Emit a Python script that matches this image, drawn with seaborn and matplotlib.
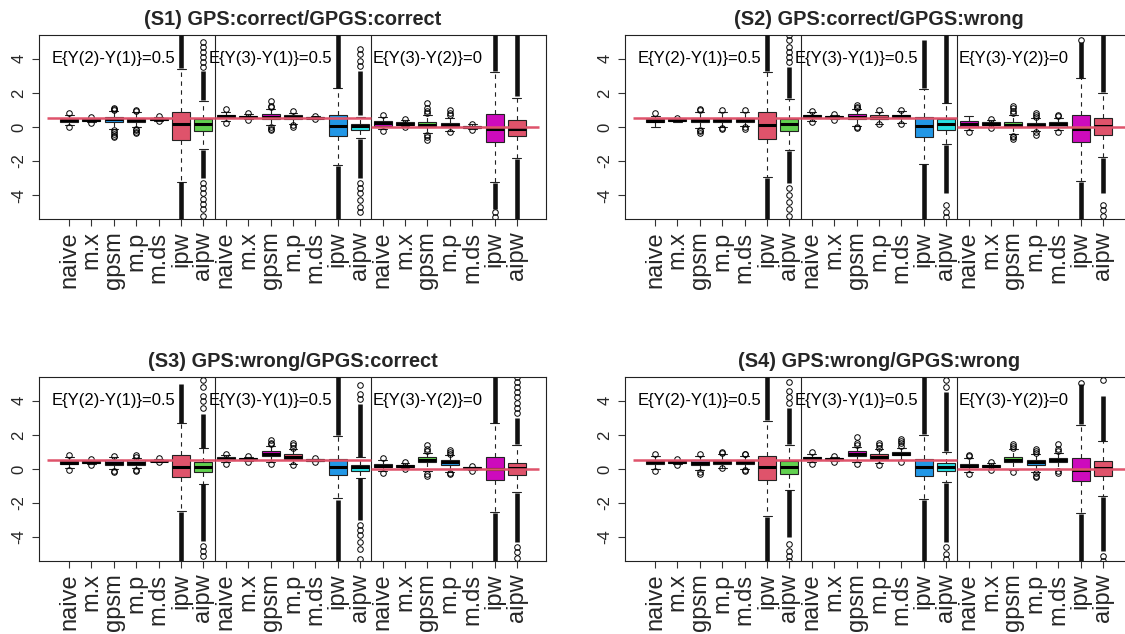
import matplotlib
matplotlib.use("Agg")
import matplotlib.pyplot as plt
import seaborn as sns

# ---------------- data ----------------
methods = ["naive", "m.x", "gpsm", "m.p", "m.ds", "ipw", "aipw"]
tick_labels = methods * 3
contrast_labels = ["E{Y(2)-Y(1)}=0.5", "E{Y(3)-Y(1)}=0.5", "E{Y(3)-Y(2)}=0"]
true_values = [0.5, 0.5, 0.0]
titles = ["(S1) GPS:correct/GPGS:correct", "(S2) GPS:correct/GPGS:wrong",
          "(S3) GPS:wrong/GPGS:correct", "(S4) GPS:wrong/GPGS:wrong"]
fill_colors = ["#DF536B", "#61D04F", "#2297E6", "#28E2E5", "#CD0BBC"]

# ---- S1 ----
S1_whislo = [0.12, 0.28, -0.10, -0.02, 0.38, -3.20, -1.29,
             0.35, 0.45, 0.10, 0.15, 0.47, -2.22, -0.65,
             -0.10, 0.05, -0.35, -0.25, -0.10, -3.20, -1.82]
S1_q1 = [0.30, 0.35, 0.30, 0.30, 0.42, -0.78, -0.25,
         0.55, 0.52, 0.45, 0.48, 0.50, -0.54, -0.15,
         0.05, 0.10, 0.00, 0.00, -0.05, -0.90, -0.54]
S1_med = [0.40, 0.40, 0.45, 0.42, 0.48, 0.15, 0.15,
          0.62, 0.60, 0.60, 0.58, 0.55, 0.05, 0.05,
          0.22, 0.20, 0.10, 0.12, 0.00, -0.10, -0.10]
S1_q3 = [0.48, 0.45, 0.60, 0.55, 0.55, 0.90, 0.48,
         0.70, 0.65, 0.75, 0.70, 0.60, 0.68, 0.20,
         0.35, 0.30, 0.30, 0.25, 0.08, 0.74, 0.40]
S1_whishi = [0.68, 0.52, 0.95, 0.88, 0.60, 3.40, 1.53,
             0.90, 0.75, 1.05, 0.85, 0.62, 2.28, 0.60,
             0.60, 0.40, 0.70, 0.55, 0.15, 3.20, 1.73]
S1_fliers = [[0.80, 0.00], [0.60, 0.22], [1.00, 1.05, 1.10, -0.20, -0.30, -0.40, -0.50, -0.60],
             [0.95, 1.00, -0.10, -0.20, -0.30, -0.38], [0.66, 0.35], [],
             [3.5, 3.8, 4.1, 4.4, 4.7, 5.0, -3.3, -3.6, -3.9, -4.2, -4.5, -4.8, -5.2],
             [1.03, 0.25], [0.80, 0.40], [1.15, 1.25, 1.50, 0.00, -0.10, -0.20],
             [0.95, 0.10, 0.00], [0.66, 0.45], [],
             [3.6, 3.9, 4.3, 4.6, -3.3, -3.6, -3.9, -4.3, -4.7, -5.0],
             [0.70, -0.25], [0.45, 0.00], [0.80, 0.95, 1.10, 1.40, -0.45, -0.60, -0.75],
             [0.70, 0.85, 1.00, -0.32], [0.20, -0.15], [-5.0, -5.3], []]
S1_runs = [[], [], [], [], [], [(3.45, 5.4), (-5.4, -3.25)], [(1.6, 3.3), (-3.0, -1.35)],
           [], [], [], [], [], [(2.3, 5.4), (-5.4, -2.3)], [(0.7, 3.3), (-3.0, -0.7)],
           [], [], [], [], [], [(3.3, 5.4), (-4.8, -3.3)], [(1.8, 5.4), (-5.4, -1.9)]]

# ---- S2 ----
S2_whislo = [0.00, 0.30, -0.05, 0.00, 0.05, -2.95, -1.37,
             0.35, 0.45, 0.05, 0.20, 0.25, -2.18, -1.00,
             -0.20, 0.00, -0.40, -0.25, -0.20, -3.15, -1.79]
S2_q1 = [0.30, 0.35, 0.30, 0.30, 0.30, -0.70, -0.25,
         0.55, 0.50, 0.45, 0.45, 0.50, -0.58, -0.15,
         0.00, 0.10, 0.00, 0.00, 0.00, -0.90, -0.46]
S2_med = [0.38, 0.40, 0.40, 0.40, 0.42, 0.10, 0.15,
          0.62, 0.58, 0.60, 0.55, 0.62, 0.08, 0.18,
          0.20, 0.20, 0.10, 0.12, 0.15, -0.09, 0.05]
S2_q3 = [0.45, 0.45, 0.55, 0.55, 0.55, 0.88, 0.48,
         0.70, 0.65, 0.75, 0.70, 0.70, 0.60, 0.48,
         0.35, 0.30, 0.30, 0.25, 0.30, 0.68, 0.52]
S2_whishi = [0.65, 0.50, 0.90, 0.90, 0.90, 3.20, 1.67,
             0.88, 0.72, 1.05, 0.90, 0.95, 2.22, 1.39,
             0.65, 0.40, 0.70, 0.50, 0.55, 2.87, 2.02]
S2_fliers = [[0.80], [0.55], [1.00, 1.05, -0.15, -0.25, -0.35], [1.00, -0.05, -0.12],
             [1.00, -0.02, -0.10], [],
             [3.8, 4.1, 4.4, 4.7, 5.1, 5.4, -3.6, -4.0, -4.4, -4.8, -5.2],
             [0.95, 0.28], [0.76, 0.40], [1.12, 1.20, 1.30, 0.00, -0.08], [1.00, 0.15],
             [1.02, 0.15], [], [-4.6, -5.0, -5.3],
             [-0.28], [0.45, -0.05], [0.80, 0.95, 1.10, 1.25, -0.50, -0.60, -0.72],
             [0.58, 0.70, 0.80, -0.32, -0.45], [0.62, 0.70, -0.30], [5.1], [-4.6, -4.9, -5.2]]
S2_runs = [[], [], [], [], [], [(3.3, 5.4), (-5.4, -3.0)], [(1.7, 3.5), (-3.3, -1.4)],
           [], [], [], [], [], [(2.3, 5.1), (-5.4, -2.2)], [(1.4, 5.4), (-3.9, -1.05)],
           [], [], [], [], [], [(2.9, 5.0), (-5.4, -3.2)], [(2.05, 5.4), (-3.9, -1.8)]]

# ---- S3 ----
S3_whislo = [0.05, 0.28, 0.00, 0.05, 0.42, -2.44, -0.88,
             0.40, 0.45, 0.40, 0.30, 0.45, -1.72, -0.53,
             -0.10, 0.05, -0.10, -0.15, -0.08, -2.54, -1.37]
S3_q1 = [0.27, 0.33, 0.25, 0.25, 0.44, -0.49, -0.16,
         0.52, 0.50, 0.74, 0.60, 0.47, -0.35, -0.10,
         0.10, 0.12, 0.39, 0.25, -0.02, -0.64, -0.35]
S3_med = [0.37, 0.40, 0.35, 0.35, 0.49, 0.14, 0.14,
          0.60, 0.58, 0.85, 0.72, 0.52, 0.14, 0.10,
          0.20, 0.18, 0.52, 0.40, 0.04, 0.00, 0.04]
S3_q3 = [0.47, 0.45, 0.50, 0.50, 0.55, 0.82, 0.39,
         0.70, 0.65, 1.03, 0.85, 0.58, 0.58, 0.25,
         0.30, 0.25, 0.68, 0.55, 0.10, 0.68, 0.35]
S3_whishi = [0.70, 0.50, 0.68, 0.65, 0.58, 2.67, 1.23,
             0.82, 0.70, 1.35, 1.15, 0.60, 1.95, 0.68,
             0.55, 0.35, 0.95, 0.80, 0.12, 2.67, 1.42]
S3_fliers = [[0.82, -0.05], [0.56, 0.22], [0.76, -0.10, -0.20], [0.72, 0.80, -0.05, -0.10],
             [0.62, 0.40], [], [3.6, 4.0, 4.3, 4.8, 5.2, -4.5, -4.8, -5.1],
             [0.90, 0.30], [0.76, 0.42], [1.45, 1.55, 1.70, 0.28], [1.25, 1.40, 1.55, 0.22],
             [0.62, 0.42], [], [4.1, 4.4, 4.9, -3.3, -3.6, -3.9, -4.3, -4.7, -5.3],
             [0.65, -0.25], [0.42, 0.00], [1.05, 1.20, 1.38, -0.30, -0.40],
             [0.88, 1.00, 1.12, -0.22, -0.30], [0.16, -0.10], [],
             [3.3, 3.6, 3.9, 4.2, 4.5, 4.8, 5.1, 5.4, -4.6, -4.9, -5.2]]
S3_runs = [[], [], [], [], [], [(2.7, 5.0), (-5.4, -2.5)], [(1.25, 3.2), (-4.2, -0.9)],
           [], [], [], [], [], [(2.0, 5.4), (-5.4, -1.8)], [(0.7, 3.8), (-3.0, -0.55)],
           [], [], [], [], [], [(2.7, 5.4), (-5.4, -2.6)], [(1.45, 3.0), (-4.3, -1.4)]]

# ---- S4 ----
S4_whislo = [0.00, 0.30, -0.05, 0.08, 0.00, -2.78, -1.22,
             0.40, 0.45, 0.40, 0.35, 0.50, -1.76, -0.75,
             -0.20, 0.00, -0.05, -0.15, 0.00, -2.60, -1.60]
S4_q1 = [0.30, 0.35, 0.25, 0.30, 0.30, -0.67, -0.29,
         0.55, 0.50, 0.75, 0.60, 0.80, -0.43, -0.14,
         0.10, 0.10, 0.40, 0.25, 0.40, -0.69, -0.39]
S4_med = [0.38, 0.40, 0.35, 0.40, 0.38, 0.10, 0.10,
          0.62, 0.58, 0.90, 0.72, 0.90, 0.10, 0.12,
          0.20, 0.18, 0.55, 0.38, 0.52, -0.04, 0.06]
S4_q3 = [0.45, 0.45, 0.50, 0.50, 0.50, 0.75, 0.45,
         0.70, 0.65, 1.03, 0.85, 1.00, 0.60, 0.35,
         0.30, 0.25, 0.70, 0.50, 0.62, 0.65, 0.45]
S4_whishi = [0.75, 0.50, 0.78, 0.88, 0.78, 2.84, 1.43,
             0.90, 0.70, 1.30, 1.15, 1.25, 2.00, 1.00,
             0.62, 0.35, 1.15, 0.85, 0.95, 2.60, 1.63]
S4_fliers = [[0.85, -0.10], [0.56, 0.25], [0.86, -0.15, -0.28], [0.95, 1.02, 0.04],
             [0.85, 0.90, -0.05, -0.12], [], [3.9, 4.2, 4.6, 5.1, -4.4, -4.8, -5.1, -5.4],
             [1.00, 0.30], [0.76, 0.40], [1.40, 1.55, 1.85, 0.30], [1.25, 1.40, 1.55, 0.25],
             [1.35, 1.50, 1.65, 1.75, 0.42], [], [4.8, 5.2, -4.6, -5.0, -5.3],
             [0.75, 0.82, -0.30], [0.40, -0.05], [1.22, 1.35, 1.48, -0.15],
             [0.92, 1.05, 1.18, -0.25, -0.40, -0.50], [1.05, 1.20, 1.45, -0.10, -0.22],
             [5.06], [5.2, -5.1, -5.4]]
S4_runs = [[], [], [], [], [], [(2.9, 5.4), (-5.4, -2.8)], [(1.45, 3.6), (-4.0, -1.25)],
           [], [], [], [], [], [(2.05, 5.4), (-5.4, -1.8)], [(1.05, 4.5), (-4.3, -0.8)],
           [], [], [], [], [], [(2.65, 5.0), (-5.4, -2.65)], [(1.65, 4.3), (-4.8, -1.65)]]

panels = [
    (S1_whislo, S1_q1, S1_med, S1_q3, S1_whishi, S1_fliers, S1_runs),
    (S2_whislo, S2_q1, S2_med, S2_q3, S2_whishi, S2_fliers, S2_runs),
    (S3_whislo, S3_q1, S3_med, S3_q3, S3_whishi, S3_fliers, S3_runs),
    (S4_whislo, S4_q1, S4_med, S4_q3, S4_whishi, S4_fliers, S4_runs),
]

# ---------------- style ----------------
sns.set_theme(style="white")
plt.rcParams["font.family"] = ["Liberation Sans", "DejaVu Sans"]

fig = plt.figure(figsize=(11.25, 6.34), dpi=100)
W, H = 0.4507, 0.2902
positions_axes = [
    [0.0347, 0.6546, W, H],
    [0.5556, 0.6546, W, H],
    [0.0347, 0.1152, W, H],
    [0.5556, 0.1152, W, H],
]

n_box = len(tick_labels)
xpos = list(range(1, n_box + 1))
group_edges = [0, 7.5, 14.5, 22]

for k, (wl, q1, md, q3, wh, fl, runs) in enumerate(panels):
    ax = fig.add_axes(positions_axes[k])
    stats = []
    for i in range(n_box):
        stats.append(dict(whislo=wl[i], q1=q1[i], med=md[i], q3=q3[i],
                          whishi=wh[i], fliers=fl[i]))
    bp = ax.bxp(stats, positions=xpos, widths=0.8, capwidths=0.4,
                patch_artist=True, showfliers=True,
                boxprops=dict(edgecolor="#222222", linewidth=0.8),
                medianprops=dict(color="black", linewidth=2.2, solid_capstyle="butt"),
                whiskerprops=dict(color="#222222", linewidth=0.8, linestyle=(0, (4, 4))),
                capprops=dict(color="#222222", linewidth=0.8),
                flierprops=dict(marker="o", markerfacecolor="none",
                                markeredgecolor="black", markersize=4.0,
                                markeredgewidth=0.7, linestyle="none"))
    for i, patch in enumerate(bp["boxes"]):
        patch.set_facecolor(fill_colors[i % len(fill_colors)])
    # dense outlier stacks (overlapping open circles)
    for i in range(n_box):
        for lo, hi in runs[i]:
            ax.vlines(xpos[i], lo, hi, color="#111111", linewidth=3.3, zorder=3)
    # group separators
    for sep in group_edges[1:-1]:
        ax.axvline(sep, color="#222222", linewidth=0.8)
    # true values
    for g in range(3):
        ax.hlines(true_values[g], group_edges[g], group_edges[g + 1],
                  color="#DF536B", linewidth=1.8, zorder=5)
        ax.text(3 + 7 * g, 4, contrast_labels[g], ha="center", va="center",
                fontsize=12, color="black")
    ax.set_xlim(-0.34, 22.3)
    ax.set_ylim(-5.4, 5.4)
    ax.set_xticks(xpos)
    ax.set_xticklabels(tick_labels, rotation=90, fontsize=17)
    ax.set_yticks([-4, -2, 0, 2, 4])
    ax.set_yticklabels(["-4", "-2", "0", "2", "4"], rotation=90, va="center", fontsize=12)
    ax.tick_params(axis="both", direction="out", length=5, width=0.8, color="#333333",
                   bottom=True, left=True)
    ax.tick_params(axis="x", pad=4)
    ax.tick_params(axis="y", pad=4)
    for s in ax.spines.values():
        s.set_visible(True)
        s.set_color("#222222")
        s.set_linewidth(0.8)
    ax.set_title(titles[k], fontsize=14.4, fontweight="bold", pad=7)

fig.savefig("out.png", dpi=100)
